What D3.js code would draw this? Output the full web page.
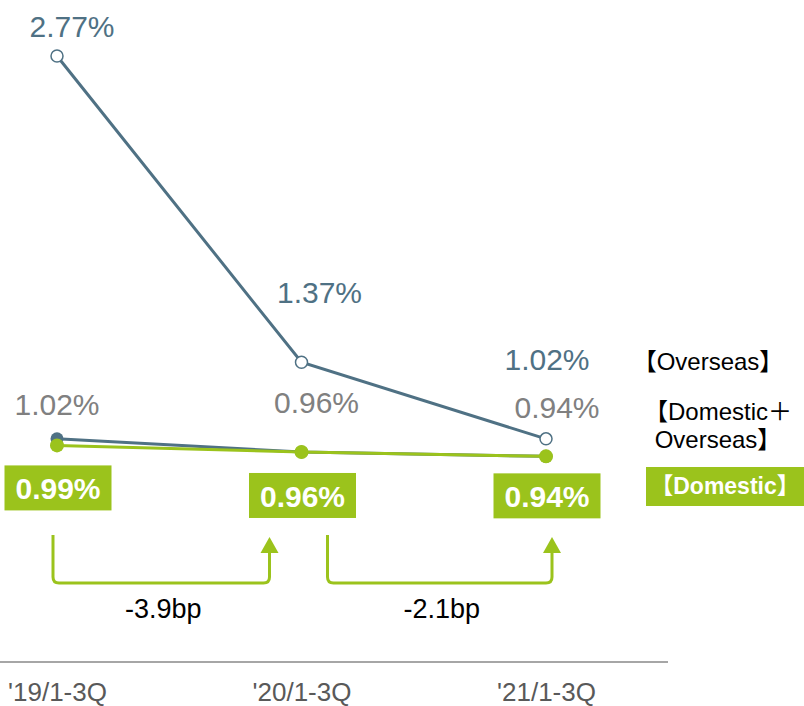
<!DOCTYPE html>
<html><head><meta charset="utf-8">
<script src="https://cdn.jsdelivr.net/npm/d3@7"></script>
<style>body{margin:0;background:#fff}svg{display:block}</style>
</head><body>
<svg id="c" width="804" height="706"></svg>
<script>
const categories = ["'19/1-3Q", "'20/1-3Q", "'21/1-3Q"];
const overseas = [2.77, 1.37, 1.02];
const combined = [1.02, 0.96, 0.94];
const domestic = [0.99, 0.96, 0.94];
const changes = ["-3.9bp", "-2.1bp"];
const legendLabels = ["【Overseas】", ["【Domestic＋", "Overseas】"], "【Domestic】"];

const BLUE = "#4f7184", GREEN = "#9bc31c", GRAY = "#808080";
const FONT = "'Liberation Sans', Arial, 'Noto Sans CJK JP', sans-serif";

const svg = d3.select("#c");
const x = d3.scalePoint().domain(categories).range([57, 546]);
const y = d3.scaleLinear().domain([0, 2.77]).range([662, 56]);

// axis
const axis = d3.axisBottom(x).tickSize(0).tickPadding(0);
const ax = svg.append("g").attr("transform", "translate(0,662)").call(axis);
ax.select(".domain").remove();
svg.append("line").attr("x1", 0).attr("x2", 668).attr("y1", 662).attr("y2", 662)
  .attr("stroke", "#a6a6a6").attr("stroke-width", 2);
ax.selectAll("text").attr("y", 39).attr("dy", 0).attr("fill", "#595959")
  .style("font-family", FONT).style("font-size", "26px");

const line = d3.line().x((d, i) => x(categories[i])).y(d => y(d));

// combined line
svg.append("path").datum(combined).attr("d", line).attr("fill", "none")
  .attr("stroke", BLUE).attr("stroke-width", 3);
svg.selectAll(".cm").data(combined).enter().append("circle")
  .attr("cx", (d, i) => x(categories[i])).attr("cy", d => y(d)).attr("r", 6.5).attr("fill", BLUE);

// domestic line
svg.append("path").datum(domestic).attr("d", line).attr("fill", "none")
  .attr("stroke", GREEN).attr("stroke-width", 3);
svg.selectAll(".dm").data(domestic).enter().append("circle")
  .attr("cx", (d, i) => x(categories[i])).attr("cy", d => y(d)).attr("r", 7).attr("fill", GREEN);

// overseas line
svg.append("path").datum(overseas).attr("d", line).attr("fill", "none")
  .attr("stroke", BLUE).attr("stroke-width", 3);
svg.selectAll(".om").data(overseas).enter().append("circle")
  .attr("cx", (d, i) => x(categories[i])).attr("cy", d => y(d)).attr("r", 6)
  .attr("fill", "#fff").attr("stroke", BLUE).attr("stroke-width", 1.5);

// overseas labels
const oOff = [[15, -19], [18, -59], [1, -69]];
svg.selectAll(".ol").data(overseas).enter().append("text")
  .attr("x", (d, i) => x(categories[i]) + oOff[i][0]).attr("y", (d, i) => y(d) + oOff[i][1])
  .attr("text-anchor", "middle").attr("fill", BLUE)
  .style("font-family", FONT).style("font-size", "30px").text(d => d.toFixed(2) + "%");

// combined labels
const cOff = [[0, -24], [15, -39], [11, -38]];
svg.selectAll(".cl").data(combined).enter().append("text")
  .attr("x", (d, i) => x(categories[i]) + cOff[i][0]).attr("y", (d, i) => y(d) + cOff[i][1])
  .attr("text-anchor", "middle").attr("fill", GRAY)
  .style("font-family", FONT).style("font-size", "30px").text(d => d.toFixed(2) + "%");

// domestic boxed labels
const bw = 107, bh = 45;
const bOff = [20, 21, 17];
domestic.forEach((d, i) => {
  const cx = x(categories[i]) + 1, top = y(d) + bOff[i];
  svg.append("rect").attr("x", cx - bw / 2).attr("y", top).attr("width", bw).attr("height", bh).attr("fill", GREEN);
  svg.append("text").attr("x", cx).attr("y", top + 34).attr("text-anchor", "middle")
    .attr("fill", "#fff").style("font-family", FONT).style("font-size", "30px").style("font-weight", "bold")
    .text(d.toFixed(2) + "%");
});

// change arrows
const arrowDefs = [[x(categories[0]) - 4, x(categories[1]) - 32], [x(categories[1]) + 26, x(categories[2]) + 6]];
const yTop = 535, yBot = 583, headTop = 537, r = 6;
arrowDefs.forEach((a, i) => {
  const [x1, x2] = a;
  const p = d3.path();
  p.moveTo(x1, yTop);
  p.lineTo(x1, yBot - r);
  p.quadraticCurveTo(x1, yBot, x1 + r, yBot);
  p.lineTo(x2 - r, yBot);
  p.quadraticCurveTo(x2, yBot, x2, yBot - r);
  p.lineTo(x2, headTop + 14);
  svg.append("path").attr("d", p.toString()).attr("fill", "none").attr("stroke", GREEN).attr("stroke-width", 3);
  svg.append("path").attr("d", `M${x2 - 9},${headTop + 16}L${x2},${headTop}L${x2 + 9},${headTop + 16}Z`).attr("fill", GREEN);
  svg.append("text").attr("x", (x1 + x2) / 2 + 2).attr("y", 618).attr("text-anchor", "middle")
    .attr("fill", "#000").style("font-family", FONT).style("font-size", "27px").text(changes[i]);
});

// legend
svg.append("text").attr("x", 708).attr("y", 370).attr("text-anchor", "middle").attr("fill", "#000")
  .style("font-family", FONT).style("font-size", "24px").text(legendLabels[0]);
legendLabels[1].forEach((t, j) => {
  svg.append("text").attr("x", 718).attr("y", 420 + j * 28).attr("text-anchor", "middle").attr("fill", "#000")
    .style("font-family", FONT).style("font-size", "24px").text(t);
});
svg.append("rect").attr("x", 646).attr("y", 467).attr("width", 158).attr("height", 39).attr("fill", GREEN);
svg.append("text").attr("x", 725).attr("y", 494).attr("text-anchor", "middle").attr("fill", "#fff")
  .style("font-family", FONT).style("font-size", "23px").style("font-weight", "bold").text(legendLabels[2]);
</script>
</body></html>
